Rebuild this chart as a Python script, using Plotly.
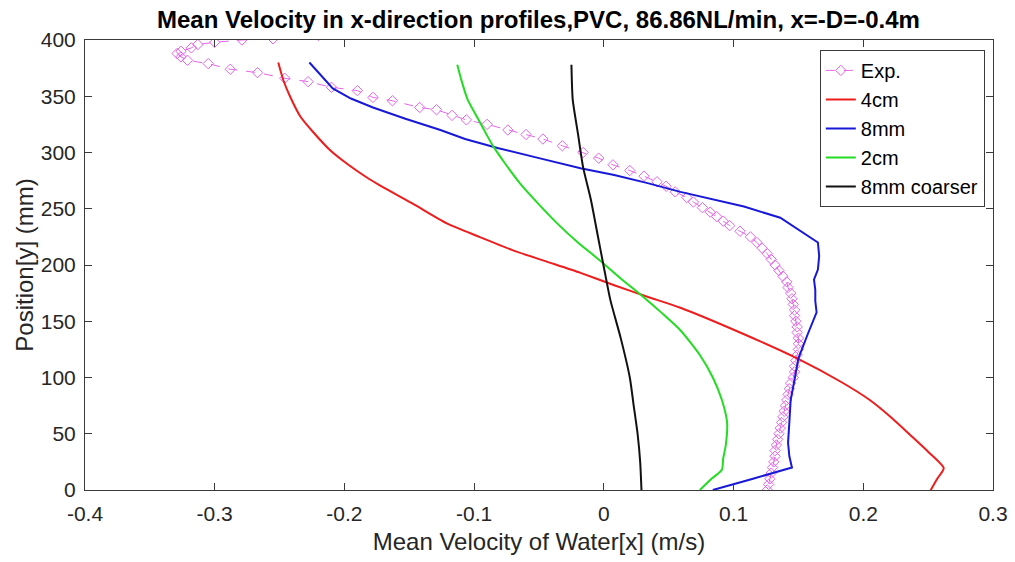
import plotly.graph_objects as go

# Experimental profile (position y [mm], velocity x [m/s])
exp_y = [404, 401, 400, 398, 396, 393, 390, 388, 385, 382, 379, 374, 371, 366, 363, 358, 355, 349, 346, 340,
         338, 333, 329, 325, 320, 316, 312, 306, 300, 295, 289, 284, 279, 274, 270, 265, 260, 256, 251, 247,
         243, 239, 235, 230, 225, 220, 215, 210, 205, 200, 195, 190, 185, 180, 175, 170, 165, 160, 155, 150,
         145, 140, 135, 130, 125, 120, 115, 110, 105, 100, 95, 90, 85, 80, 75, 70, 65, 60, 55, 50,
         45, 40, 35, 30, 25, 20, 15, 10, 5, 0]
exp_x = [-0.220, -0.255, -0.279, -0.300, -0.313, -0.318, -0.326, -0.329, -0.326, -0.321, -0.305, -0.288, -0.267, -0.246, -0.228, -0.210, -0.190, -0.178, -0.163, -0.142,
         -0.129, -0.117, -0.106, -0.090, -0.074, -0.060, -0.047, -0.032, -0.016, -0.004, 0.007, 0.020, 0.031, 0.041, 0.048, 0.055, 0.064, 0.069, 0.076, 0.082,
         0.087, 0.092, 0.097, 0.105, 0.113, 0.118, 0.122, 0.126, 0.129, 0.132, 0.135, 0.138, 0.141, 0.142, 0.144, 0.145, 0.146, 0.147, 0.147, 0.148,
         0.149, 0.149, 0.150, 0.150, 0.150, 0.149, 0.148, 0.147, 0.147, 0.146, 0.144, 0.143, 0.142, 0.141, 0.140, 0.139, 0.138, 0.137, 0.136, 0.135,
         0.134, 0.133, 0.132, 0.132, 0.131, 0.130, 0.129, 0.128, 0.127, 0.126]

# 4cm mesh
cm4_y = [380, 364, 350, 332, 318, 302, 290, 278, 271, 255, 237, 225, 213, 203, 193, 182, 172, 162, 140, 117, 96, 80, 64, 48, 34, 19.5, 10, 0]
cm4_x = [-0.251, -0.247, -0.242, -0.234, -0.224, -0.211, -0.198, -0.183, -0.173, -0.148, -0.121, -0.096, -0.070, -0.044, -0.018, 0.008, 0.033, 0.059, 0.105, 0.149, 0.183, 0.205, 0.222, 0.237, 0.250, 0.262, 0.257, 0.252]

# 8mm mesh
mm8_y = [380, 368, 357, 348, 340, 330, 320, 312, 304, 295, 286, 280, 273, 265, 261, 252, 242, 231, 220, 208, 196, 187, 178, 168, 158, 138, 117, 98, 80, 60, 42, 30, 20, 10, 0]
mm8_x = [-0.227, -0.218, -0.209, -0.195, -0.178, -0.153, -0.126, -0.107, -0.082, -0.050, -0.018, 0.008, 0.033, 0.059, 0.074, 0.108, 0.136, 0.151, 0.165, 0.166, 0.165, 0.162, 0.163, 0.163, 0.164, 0.157, 0.150, 0.147, 0.144, 0.143, 0.142, 0.143, 0.145, 0.115, 0.084]

# 2cm mesh
cm2_y = [378, 365, 347, 330, 315, 305, 290, 273, 255, 237, 220, 204, 188, 172, 157, 142, 120, 100, 80, 60, 40, 28, 18, 10, 0]
cm2_x = [-0.113, -0.110, -0.105, -0.097, -0.090, -0.085, -0.076, -0.065, -0.051, -0.036, -0.020, -0.003, 0.013, 0.030, 0.045, 0.059, 0.074, 0.084, 0.091, 0.095, 0.094, 0.092, 0.091, 0.083, 0.074]

# 8mm coarser mesh
mmc_y = [378, 347, 317, 287, 258, 228, 198, 169, 135, 100, 75, 50, 25, 0]
mmc_x = [-0.025, -0.024, -0.020, -0.016, -0.010, -0.005, 0.000, 0.005, 0.013, 0.020, 0.023, 0.026, 0.028, 0.029]

x_ticks = [-0.4, -0.3, -0.2, -0.1, 0, 0.1, 0.2, 0.3]
x_tick_text = ["-0.4", "-0.3", "-0.2", "-0.1", "0", "0.1", "0.2", "0.3"]
y_ticks = [0, 50, 100, 150, 200, 250, 300, 350, 400]

FONT = "Liberation Sans, Arial"
AX = "#3a3a3a"

fig = go.Figure()
fig.add_trace(go.Scatter(x=exp_x, y=exp_y, name="Exp.", mode="lines+markers",
                         line=dict(color="#e466e8", width=1, dash="dash"),
                         marker=dict(symbol="diamond-open", size=8, color="#e466e8", line=dict(width=1))))
fig.add_trace(go.Scatter(x=cm4_x, y=cm4_y, name="4cm", mode="lines",
                         line=dict(color="#ee1c1c", width=2, shape="spline", smoothing=0.6)))
fig.add_trace(go.Scatter(x=mm8_x, y=mm8_y, name="8mm", mode="lines",
                         line=dict(color="#1818d8", width=2)))
fig.add_trace(go.Scatter(x=cm2_x, y=cm2_y, name="2cm", mode="lines",
                         line=dict(color="#22dd22", width=2, shape="spline", smoothing=0.6)))
fig.add_trace(go.Scatter(x=mmc_x, y=mmc_y, name="8mm coarser", mode="lines",
                         line=dict(color="#111111", width=2, shape="spline", smoothing=0.6)))

axis_common = dict(showline=True, linecolor=AX, linewidth=1, mirror="ticks",
                   ticks="inside", ticklen=7, tickcolor=AX, showgrid=False, zeroline=False,
                   automargin=False,
                   tickfont=dict(family=FONT, size=21, color="#262626"))

fig.update_layout(
    width=1015, height=562,
    margin=dict(l=85, r=22, t=40, b=72),
    paper_bgcolor="white", plot_bgcolor="white",
    title=dict(text="<b>Mean Velocity in x-direction profiles,PVC, 86.86NL/min, x=-D=-0.4m</b>",
               x=0.5305, xanchor="center", y=0.966, yanchor="middle",
               font=dict(family=FONT, size=24, color="black")),
    xaxis=dict(range=[-0.4, 0.3], tickvals=x_ticks, ticktext=x_tick_text, ticklabelstandoff=5,
               title=dict(text="Mean Velocity of Water[x] (m/s)", standoff=8,
                          font=dict(family=FONT, size=24, color="#262626")),
               **axis_common),
    yaxis=dict(range=[0, 400], tickvals=y_ticks, ticklabelstandoff=4,
               title=dict(text="Position[y] (mm)", standoff=0,
                          font=dict(family=FONT, size=24, color="#262626")),
               **axis_common),
    legend=dict(x=0.991, xanchor="right", y=0.978, yanchor="top",
                bgcolor="white", bordercolor=AX, borderwidth=1,
                font=dict(family=FONT, size=20, color="black"),
                tracegroupgap=0, itemwidth=30),
    showlegend=True,
)

fig.write_html("out.html", config={"displayModeBar": False},
               post_script="document.body.style.margin='0';")
